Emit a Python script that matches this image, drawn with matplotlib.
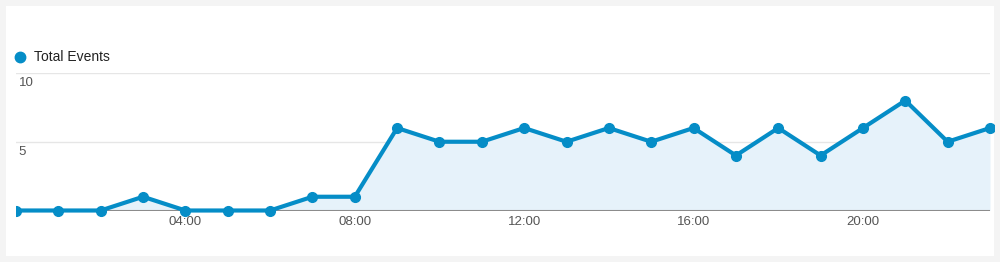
import matplotlib
matplotlib.use("Agg")
import matplotlib.pyplot as plt
from matplotlib.patches import Rectangle

hours = list(range(24))
total_events = [0, 0, 0, 1, 0, 0, 0, 1, 1, 6, 5, 5, 6, 5, 6, 5, 6, 4, 6, 4, 6, 8, 5, 6]
x_ticks = [4, 8, 12, 16, 20]
x_tick_labels = ["04:00", "08:00", "12:00", "16:00", "20:00"]
y_ticks = [5, 10]
y_tick_labels = ["5", "10"]
series_name = "Total Events"

W, H = 1000, 262
fig = plt.figure(figsize=(W / 100, H / 100), dpi=100, facecolor="#f4f4f4")
fig.patches.append(Rectangle((6 / W, 1 - 256 / H), (994 - 6) / W, (256 - 6) / H,
                             transform=fig.transFigure, facecolor="white",
                             edgecolor="none", zorder=-10))

left, right = 16, 990
top, bottom = 73, 210.5
ax = fig.add_axes([left / W, 1 - bottom / H, (right - left) / W, (bottom - top) / H])
ax.set_facecolor("none")
ax.set_zorder(5)
ax.set_xlim(0, 23)
ax.set_ylim(0, 10)

blue = "#058dc7"
ax.fill_between(hours, total_events, 0, color="#e6f2fa", zorder=1, linewidth=0)
for yv in y_ticks:
    ax.axhline(yv, color="#e6e6e6", lw=1, zorder=0.5)
ax.axhline(0, color="#8c8c8c", lw=1.5, zorder=2)
line, = ax.plot(hours, total_events, color=blue, lw=3, marker="o", markersize=7,
                zorder=3, clip_on=True, solid_joinstyle="round")
clip_rect = Rectangle((left / W, 0), (994 - left) / W, 1, transform=fig.transFigure,
                      facecolor="none", edgecolor="none")
line.set_clip_path(clip_rect)

for sp in ax.spines.values():
    sp.set_visible(False)
ax.set_yticks([])
ax.set_xticks(x_ticks)
ax.set_xticklabels(x_tick_labels, fontsize=9.5, color="#555555", family="Liberation Sans")
ax.tick_params(axis="x", length=0, pad=4)

for yv, lab in zip(y_ticks, y_tick_labels):
    ax.annotate(lab, xy=(0, yv), xycoords="data", xytext=(2, -3), textcoords="offset points",
                ha="left", va="top", fontsize=9.5, color="#555555", family="Liberation Sans")

# legend
fig.lines.append(plt.Line2D([20 / W], [1 - 57 / H], transform=fig.transFigure,
                            marker="o", markersize=7.5, color=blue, linestyle="none"))
fig.text(34 / W, 1 - 57 / H, series_name, ha="left", va="center", fontsize=10,
         color="#222222", family="Liberation Sans")

fig.savefig("out.png", dpi=100, facecolor=fig.get_facecolor())
